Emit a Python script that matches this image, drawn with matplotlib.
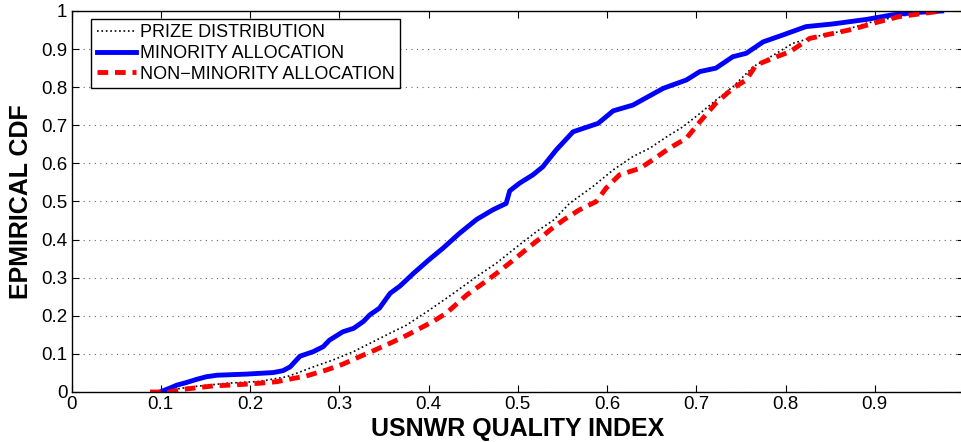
import matplotlib
matplotlib.use("Agg")
import matplotlib.pyplot as plt

plt.rcParams['font.family'] = ['Liberation Sans', 'DejaVu Sans']

prize_x = [0.095, 0.136, 0.174, 0.211, 0.241, 0.252, 0.271, 0.293, 0.316, 0.338, 0.360, 0.375,
           0.401, 0.428, 0.454, 0.476, 0.499, 0.521, 0.540, 0.558, 0.584, 0.607, 0.629, 0.648,
           0.667, 0.685, 0.704, 0.722, 0.741, 0.764, 0.790, 0.808, 0.834, 0.861, 0.891, 0.917,
           0.945, 0.975]
prize_y = [0.0, 0.014, 0.023, 0.028, 0.040, 0.049, 0.066, 0.084, 0.106, 0.132, 0.158, 0.175,
           0.215, 0.259, 0.303, 0.338, 0.381, 0.421, 0.451, 0.495, 0.539, 0.583, 0.618, 0.640,
           0.670, 0.696, 0.731, 0.766, 0.801, 0.854, 0.889, 0.915, 0.933, 0.946, 0.968, 0.981,
           0.993, 1.0]

minority_x = [0.099, 0.110, 0.118, 0.129, 0.140, 0.151, 0.163, 0.196, 0.226, 0.237, 0.245,
              0.256, 0.271, 0.282, 0.289, 0.304, 0.316, 0.327, 0.334, 0.345, 0.357, 0.368,
              0.383, 0.400, 0.416, 0.435, 0.454, 0.472, 0.487, 0.491, 0.502, 0.517, 0.528,
              0.543, 0.562, 0.590, 0.607, 0.629, 0.663, 0.689, 0.704, 0.722, 0.741, 0.756,
              0.775, 0.797, 0.823, 0.853, 0.891, 0.920, 0.946, 0.975]
minority_y = [0.0, 0.010, 0.018, 0.025, 0.033, 0.040, 0.044, 0.047, 0.051, 0.056, 0.066,
              0.094, 0.106, 0.119, 0.136, 0.158, 0.167, 0.185, 0.202, 0.220, 0.259, 0.278,
              0.311, 0.346, 0.377, 0.417, 0.453, 0.478, 0.495, 0.528, 0.548, 0.570, 0.591,
              0.635, 0.683, 0.705, 0.738, 0.753, 0.797, 0.819, 0.841, 0.850, 0.880, 0.889,
              0.919, 0.937, 0.959, 0.966, 0.978, 0.990, 0.996, 1.0]

nonminority_x = [0.088, 0.110, 0.125, 0.144, 0.159, 0.185, 0.211, 0.230, 0.245, 0.263, 0.286,
                 0.304, 0.323, 0.338, 0.357, 0.375, 0.405, 0.420, 0.443, 0.461, 0.476, 0.495,
                 0.513, 0.525, 0.536, 0.551, 0.569, 0.588, 0.599, 0.614, 0.637, 0.651, 0.670,
                 0.689, 0.704, 0.722, 0.741, 0.756, 0.767, 0.790, 0.805, 0.827, 0.853, 0.875,
                 0.905, 0.927, 0.949, 0.975]
nonminority_y = [0.0, 0.0, 0.007, 0.012, 0.016, 0.019, 0.023, 0.027, 0.034, 0.042, 0.058,
                 0.073, 0.093, 0.108, 0.128, 0.148, 0.185, 0.207, 0.255, 0.285, 0.311, 0.346,
                 0.381, 0.403, 0.425, 0.451, 0.478, 0.500, 0.535, 0.570, 0.587, 0.609, 0.640,
                 0.666, 0.709, 0.758, 0.797, 0.819, 0.858, 0.880, 0.893, 0.928, 0.941, 0.952,
                 0.972, 0.985, 0.992, 1.0]

x_ticks = [0, 0.1, 0.2, 0.3, 0.4, 0.5, 0.6, 0.7, 0.8, 0.9, 1.0]
x_labels = ['0', '0.1', '0.2', '0.3', '0.4', '0.5', '0.6', '0.7', '0.8', '0.9', '']
y_ticks = [0, 0.1, 0.2, 0.3, 0.4, 0.5, 0.6, 0.7, 0.8, 0.9, 1.0]
y_labels = ['0', '0.1', '0.2', '0.3', '0.4', '0.5', '0.6', '0.7', '0.8', '0.9', '1']

fig = plt.figure(figsize=(9.62, 4.42), dpi=100)
ax = fig.add_axes([71.5 / 962, 50 / 442, 892.5 / 962, 381 / 442])

ax.plot(prize_x, prize_y, color='black', linestyle=':', linewidth=1.2, label='PRIZE DISTRIBUTION')
ax.plot(minority_x, minority_y, color='#0000ff', linestyle='-', linewidth=3.5, label='MINORITY ALLOCATION')
ax.plot(nonminority_x, nonminority_y, color='#ff0000', linestyle=(0, (2.2, 1.4)), linewidth=3.5,
        label='NON\u2212MINORITY ALLOCATION')

ax.set_xlim(0, 1)
ax.set_ylim(0, 1)
ax.set_xticks(x_ticks)
ax.set_xticklabels(x_labels)
ax.set_yticks(y_ticks)
ax.set_yticklabels(y_labels)
ax.tick_params(direction='in', top=True, right=True, length=5, width=0.8, labelsize=13.5, pad=3)
ax.yaxis.grid(True, linestyle=(0, (1, 4)), color='#666666', linewidth=0.8)
for s in ax.spines.values():
    s.set_linewidth(1.0)

ax.set_xlabel('USNWR QUALITY INDEX', fontsize=18, fontweight='bold', labelpad=3)
ax.set_ylabel('EPMIRICAL CDF', fontsize=18, fontweight='bold', labelpad=6)

leg = ax.legend(loc='upper left', bbox_to_anchor=(0.022, 0.979), fontsize=13, frameon=True,
                fancybox=False, edgecolor='black', framealpha=1, borderpad=0.3, labelspacing=0.2,
                handlelength=2.2, handletextpad=0.2, borderaxespad=0)
leg.get_frame().set_linewidth(1.0)

fig.savefig('out.png', dpi=100)
